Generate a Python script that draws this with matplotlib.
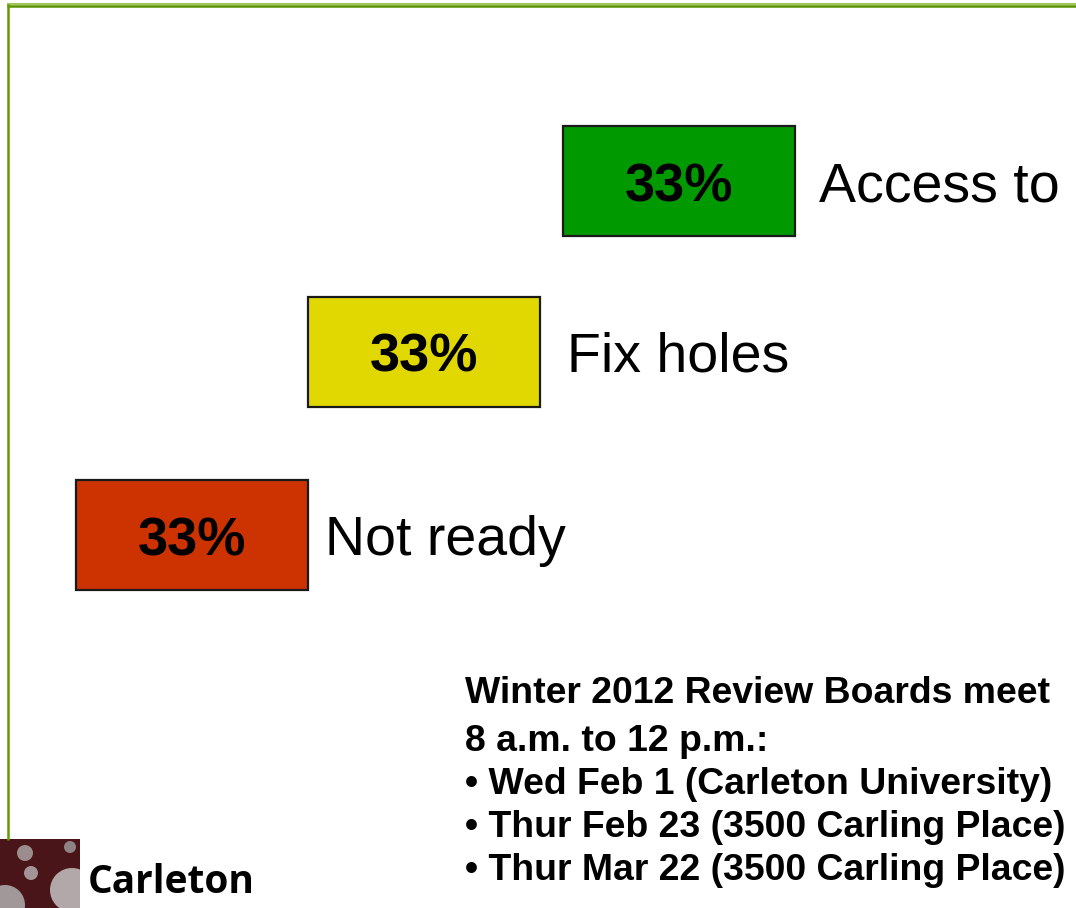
import matplotlib
matplotlib.use("Agg")
import matplotlib.pyplot as plt
from matplotlib.patches import Rectangle, Circle

# poll results
categories = ["Access to", "Fix holes", "Not ready"]
percent = [33, 33, 33]
box_colors = ["#009900", "#e0d800", "#cc3300"]

note_lines = [
    "Winter 2012 Review Boards meet",
    "8 a.m. to 12 p.m.:",
    "\u2022 Wed Feb 1 (Carleton University)",
    "\u2022 Thur Feb 23 (3500 Carling Place)",
    "\u2022 Thur Mar 22 (3500 Carling Place)",
]
logo_text = "Carleton"


def main():
    W, H = 1076, 908
    fig = plt.figure(figsize=(W / 100, H / 100), dpi=100)
    ax = fig.add_axes([0, 0, 1, 1])
    ax.set_xlim(0, W)
    ax.set_ylim(H, 0)
    ax.axis("off")

    # slide frame (green rule along top and left)
    ax.plot([7, W], [4.0, 4.0], color="#8fbb3a", lw=1.2, solid_capstyle="butt")
    ax.plot([7, W], [5.6, 5.6], color="#5a9200", lw=1.8, solid_capstyle="butt")
    ax.plot([7.8, 7.8], [4, 840], color="#669900", lw=1.8, solid_capstyle="butt")

    # staggered boxes, one per answer
    box_w, box_h = 232, 110
    lefts = [563, 308, 76]
    centers = [181, 351.5, 535]
    label_x = [819, 567, 325]
    ax.barh(centers, [box_w] * len(percent), left=lefts, height=box_h,
            color=box_colors, edgecolor="#1a1a1a", linewidth=1.6)
    for i, cat in enumerate(categories):
        ax.text(lefts[i] + box_w / 2, centers[i] + 20, "{}%".format(percent[i]),
                ha="center", va="baseline", fontsize=39, fontweight="bold",
                family="Liberation Sans", color="black")
        ax.text(label_x[i], centers[i] + 20, cat, ha="left", va="baseline",
                fontsize=40, family="Liberation Sans", color="black")

    # meeting notes
    baselines = [703, 751, 794, 837, 880]
    for line, yb in zip(note_lines, baselines):
        ax.text(465, yb, line, ha="left", va="baseline", fontsize=26.9,
                fontweight="bold", family="Liberation Sans", color="black")

    # logo block, bottom-left
    logo = Rectangle((0, 839), 80, 69, facecolor="#4a1519", edgecolor="none")
    ax.add_patch(logo)
    for cx, cy, r, c in [(25, 853, 8, "#9b8c8e"), (70, 847, 6, "#8f8284"),
                         (31, 873, 7, "#a39597"), (72, 890, 22, "#b3a8a9"),
                         (5, 905, 20, "#a1989a")]:
        dot = Circle((cx, cy), r, facecolor=c, edgecolor="none")
        ax.add_patch(dot)
        dot.set_clip_path(logo)
    ax.text(88, 893, logo_text, ha="left", va="baseline", fontsize=28,
            fontweight="bold", family="Open Sans", color="black")

    fig.savefig("out.png", dpi=100)


if __name__ == "__main__":
    main()
